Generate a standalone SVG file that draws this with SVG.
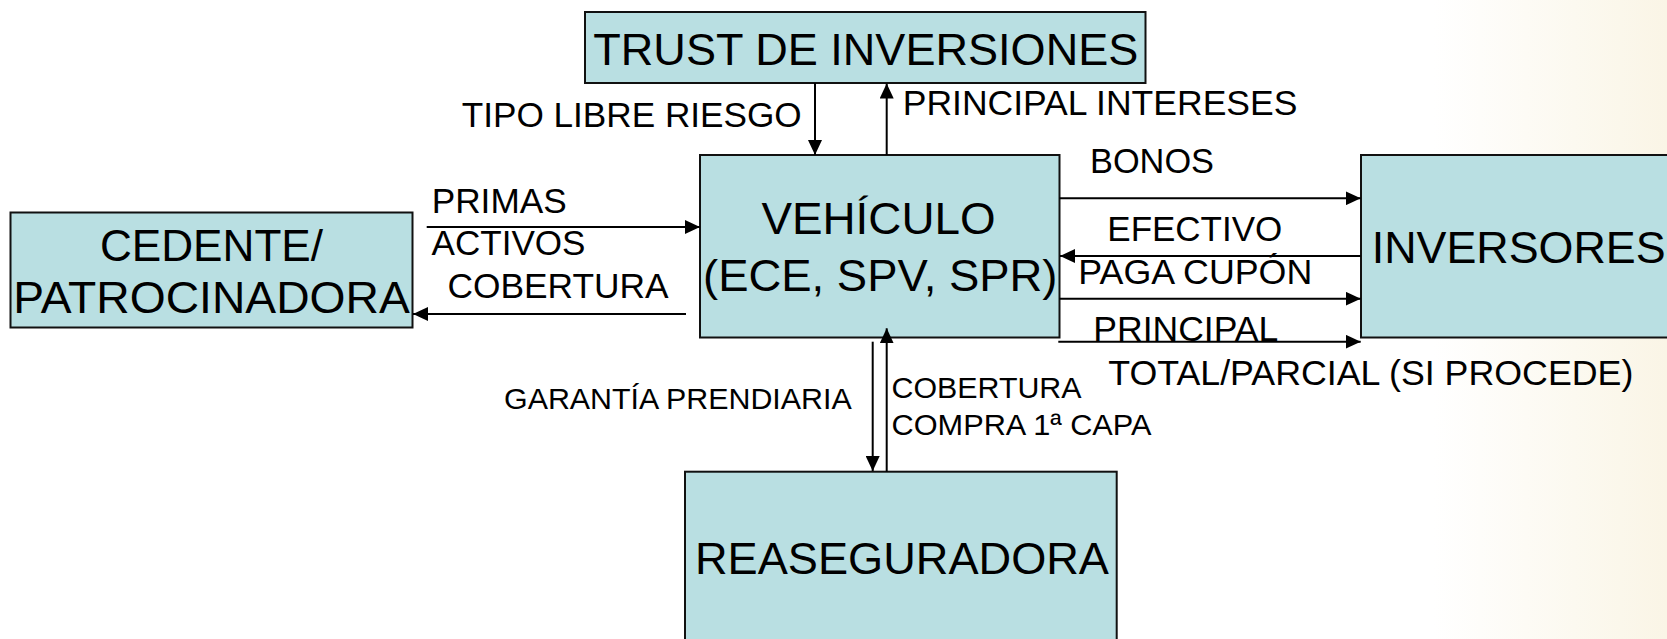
<svg xmlns="http://www.w3.org/2000/svg" width="1667" height="639" viewBox="0 0 1667 639">
<defs>
<linearGradient id="bg" x1="0" y1="0" x2="1" y2="0">
<stop offset="0" stop-color="#ffffff"/>
<stop offset="0.86" stop-color="#ffffff"/>
<stop offset="1" stop-color="#faf5e6"/>
</linearGradient>
<marker id="ah" markerUnits="userSpaceOnUse" markerWidth="16" markerHeight="14" refX="15" refY="7" orient="auto">
<path d="M0,0 L15,7 L0,14 Z" fill="#000"/>
</marker>
<style>
.box{fill:#b9dfe2;stroke:#111;stroke-width:2}
.big{font-family:"Liberation Sans",Arial,sans-serif;font-size:45px;fill:#000}
.lbl{font-family:"Liberation Sans",Arial,sans-serif;font-size:35px;fill:#000}
.sm{font-family:"Liberation Sans",Arial,sans-serif;font-size:30px;fill:#000}
.c{stroke:#000;stroke-width:2;fill:none;marker-end:url(#ah)}
</style>
</defs>
<rect x="0" y="0" width="1667" height="639" fill="url(#bg)"/>

<g id="trust">
<rect class="box" x="585" y="12" width="560.5" height="71"/>
<text class="big" x="593.3" y="65" textLength="545" lengthAdjust="spacingAndGlyphs">TRUST DE INVERSIONES</text>
</g>
<g id="vehiculo">
<rect class="box" x="700" y="155" width="359.5" height="182.5"/>
<text class="big" x="761.5" y="234" textLength="234" lengthAdjust="spacingAndGlyphs">VEHÍCULO</text>
<text class="big" x="703" y="291" textLength="354.5" lengthAdjust="spacingAndGlyphs">(ECE, SPV, SPR)</text>
</g>
<g id="cedente">
<rect class="box" x="10.5" y="212.5" width="402" height="115"/>
<text class="big" x="100" y="260.7" textLength="223" lengthAdjust="spacingAndGlyphs">CEDENTE/</text>
<text class="big" x="13.3" y="312.7" textLength="396.5" lengthAdjust="spacingAndGlyphs">PATROCINADORA</text>
</g>
<g id="inversores">
<rect class="box" x="1361" y="155" width="330" height="182.5"/>
<text class="big" x="1371.7" y="263.3" textLength="294" lengthAdjust="spacingAndGlyphs">INVERSORES</text>
</g>
<g id="reaseguradora">
<rect class="box" x="685" y="471.7" width="431.7" height="200"/>
<text class="big" x="695" y="574" textLength="414" lengthAdjust="spacingAndGlyphs">REASEGURADORA</text>
</g>

<g id="connectors">
<line class="c" x1="815" y1="83" x2="815" y2="155"/>
<line class="c" x1="886.7" y1="155" x2="886.7" y2="83.5"/>
<line class="c" x1="426.7" y1="227" x2="700" y2="227"/>
<line class="c" x1="686" y1="314" x2="413" y2="314"/>
<line class="c" x1="1059.3" y1="198.3" x2="1360.7" y2="198.3"/>
<line class="c" x1="1360.7" y1="256" x2="1060" y2="256"/>
<line class="c" x1="1059.3" y1="298.7" x2="1360.7" y2="298.7"/>
<line class="c" x1="1058.3" y1="341.7" x2="1360.7" y2="341.7"/>
<line class="c" x1="872.7" y1="341.7" x2="872.7" y2="471"/>
<line class="c" x1="886.7" y1="471.7" x2="886.7" y2="328.3"/>
</g>

<g id="labels">
<text class="lbl" x="461.7" y="126.7" textLength="340" lengthAdjust="spacingAndGlyphs">TIPO LIBRE RIESGO</text>
<text class="lbl" x="902.7" y="115" textLength="394.7" lengthAdjust="spacingAndGlyphs">PRINCIPAL INTERESES</text>
<text class="lbl" x="1090" y="172.7" textLength="124" lengthAdjust="spacingAndGlyphs">BONOS</text>
<text class="lbl" x="431.7" y="212.7" textLength="135" lengthAdjust="spacingAndGlyphs">PRIMAS</text>
<text class="lbl" x="431.5" y="255" textLength="154" lengthAdjust="spacingAndGlyphs">ACTIVOS</text>
<text class="lbl" x="447.5" y="298.3" textLength="221" lengthAdjust="spacingAndGlyphs">COBERTURA</text>
<text class="lbl" x="1107.3" y="240.7" textLength="175" lengthAdjust="spacingAndGlyphs">EFECTIVO</text>
<text class="lbl" x="1078.3" y="284.3" textLength="234" lengthAdjust="spacingAndGlyphs">PAGA CUPÓN</text>
<text class="lbl" x="1093.3" y="341" textLength="185" lengthAdjust="spacingAndGlyphs">PRINCIPAL</text>
<text class="lbl" x="1108.3" y="385" textLength="525" lengthAdjust="spacingAndGlyphs">TOTAL/PARCIAL (SI PROCEDE)</text>
<text class="sm" x="504" y="409.3" textLength="347.7" lengthAdjust="spacingAndGlyphs">GARANTÍA PRENDIARIA</text>
<text class="sm" x="891.5" y="398.3" textLength="190" lengthAdjust="spacingAndGlyphs">COBERTURA</text>
<text class="sm" x="891.5" y="435" textLength="260" lengthAdjust="spacingAndGlyphs">COMPRA 1ª CAPA</text>
</g>
</svg>
